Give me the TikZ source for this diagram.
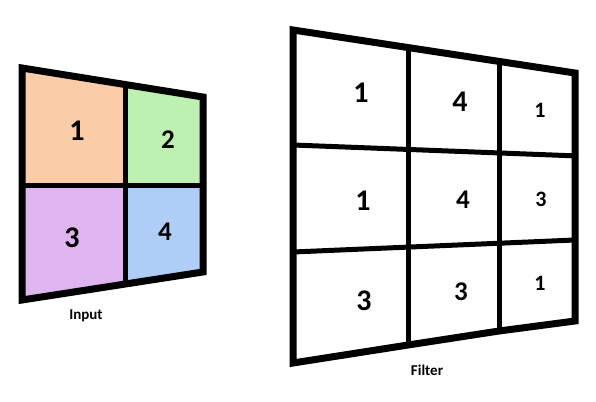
\documentclass[tikz,border=0pt]{standalone}
\usepackage{fontspec}
\setmainfont{Carlito}
\usepackage{xcolor}
\usetikzlibrary{positioning}
\definecolor{cellorange}{RGB}{250,204,168}
\definecolor{cellgreen}{RGB}{190,240,178}
\definecolor{cellpurple}{RGB}{222,181,238}
\definecolor{cellblue}{RGB}{174,206,248}

\begin{document}
\begin{tikzpicture}[x=1pt,y=-1pt,
    every node/.style={font=\bfseries},
    frame/.style={line width=7pt,line join=miter},
    inner/.style={line width=5pt},
    bigdigit/.style={font=\bfseries\fontsize{30}{30}\selectfont},
    middigit/.style={font=\bfseries\fontsize{27}{27}\selectfont},
    smalldigit/.style={font=\bfseries\fontsize{22}{22}\selectfont},
    caption/.style={font=\bfseries\fontsize{15}{15}\selectfont}]
  \fill[white] (0,0) rectangle (596,401);
  \useasboundingbox (0,0) rectangle (596,401);
  % input grid corners
  \foreach \n/\x/\y in {00/22/68, 10/125/87, 20/203/97,
                        01/22/185, 11/125/185, 21/203/185,
                        02/22/300, 12/125/283, 22/203/272}
    \coordinate (in\n) at (\x,\y);
  \fill[cellorange] (in00) -- (in10) -- (in11) -- (in01) -- cycle;
  \fill[cellgreen] (in10) -- (in20) -- (in21) -- (in11) -- cycle;
  \fill[cellpurple] (in01) -- (in11) -- (in12) -- (in02) -- cycle;
  \fill[cellblue] (in11) -- (in21) -- (in22) -- (in12) -- cycle;
  \draw[inner] (in10) -- (in12);
  \draw[inner] (in01) -- (in21);
  \draw[frame] (in00) -- (in20) -- (in22) -- (in02) -- cycle;
  \node[bigdigit] (inA) at (77,131) {1};
  \node[middigit] (inB) at (168,140) {2};
  \node[bigdigit] (inC) at (72,238) {3};
  \node[middigit] (inD) at (165,232) {4};
  \node[caption] (input) at (86,316) {Input};
  % filter grid corners
  \foreach \n/\x/\y in {00/293/30, 10/408/48, 20/499/62, 30/575/73,
                        01/293/145, 11/408/149, 21/499/153, 31/575/156,
                        02/293/252, 12/408/247, 22/499/243, 32/575/240,
                        03/293/363, 13/408/345, 23/499/331, 33/575/321}
    \coordinate (f\n) at (\x,\y);
  \coordinate (f31x) at (578,156);
  \draw[inner] (f10) -- (f13);
  \draw[inner] (f20) -- (f23);
  \draw[inner] (f01) -- (f31x);
  \draw[inner] (f02) -- (f32);
  \draw[frame] (f00) -- (f30) -- (f33) -- (f23) -- (f13) -- (f03) -- cycle;
  \node[bigdigit] (fA) at (361,93) {1};
  \node[bigdigit] (fB) at (460,102) {4};
  \node[smalldigit] (fC) at (540,110) {1};
  \node[bigdigit] (fD) at (363,201) {1};
  \node[middigit] (fE) at (463,200) {4};
  \node[smalldigit] (fF) at (541,199) {3};
  \node[bigdigit] (fG) at (364,301) {3};
  \node[middigit] (fH) at (461,292) {3};
  \node[smalldigit] (fI) at (540,283) {1};
  \node[caption] (filter) at (427,370) {Filter};
\end{tikzpicture}
\end{document}
